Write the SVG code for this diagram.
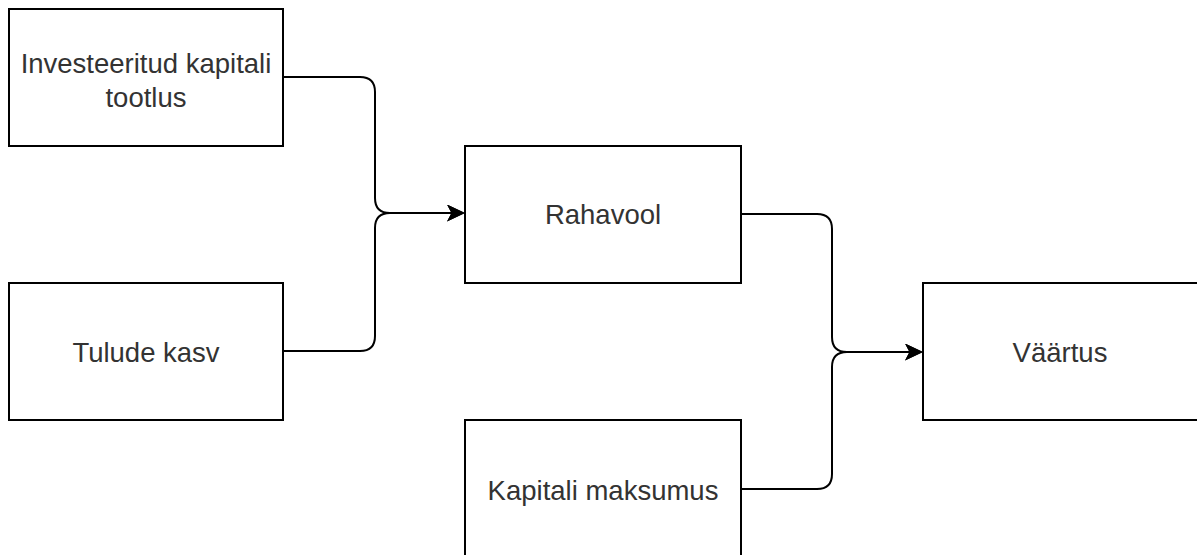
<svg xmlns="http://www.w3.org/2000/svg" width="1197" height="555" viewBox="0 0 1197 555">
<style>
.box{fill:#fff;stroke:#000;stroke-width:2}
.lbl{font-family:"Liberation Sans",Arial,Helvetica,sans-serif;font-size:27.5px;fill:#333;text-anchor:middle}
.edge{fill:none;stroke:#000;stroke-width:2}
</style>
<defs>
<marker id="arr" viewBox="0 0 18 17" refX="13" refY="8.5" markerWidth="18" markerHeight="17" markerUnits="userSpaceOnUse" orient="auto">
<path d="M18,8.5 L0,0 L4.5,8.5 L0,17 Z" fill="#000"/>
</marker>
</defs>
<rect width="1197" height="555" fill="#fff"/>
<g id="connectors">
<path class="edge" d="M283,77 H360 Q375,77 375,92 V198 Q375,213 390,213 H460" marker-end="url(#arr)"/>
<path class="edge" d="M283,351 H360 Q375,351 375,336 V228 Q375,213 390,213 H460" marker-end="url(#arr)"/>
<path class="edge" d="M741,214 H817 Q832,214 832,229 V337 Q832,352 847,352 H918" marker-end="url(#arr)"/>
<path class="edge" d="M741,489 H817 Q832,489 832,474 V367 Q832,352 847,352 H918" marker-end="url(#arr)"/>
</g>
<g id="node-investeeritud">
<rect class="box" x="9" y="9" width="274" height="137"/>
<text class="lbl" x="146" y="73">Investeeritud kapitali</text>
<text class="lbl" x="146" y="107">tootlus</text>
</g>
<g id="node-tulude">
<rect class="box" x="9" y="283" width="274" height="137"/>
<text class="lbl" x="146" y="362">Tulude kasv</text>
</g>
<g id="node-rahavool">
<rect class="box" x="465" y="146" width="276" height="137"/>
<text class="lbl" x="603" y="224">Rahavool</text>
</g>
<g id="node-kapitali">
<rect class="box" x="465" y="420" width="276" height="150"/>
<text class="lbl" x="603" y="500">Kapitali maksumus</text>
</g>
<g id="node-vaartus">
<rect class="box" x="923" y="283" width="276" height="137"/>
<text class="lbl" x="1060" y="362">Väärtus</text>
</g>
</svg>
